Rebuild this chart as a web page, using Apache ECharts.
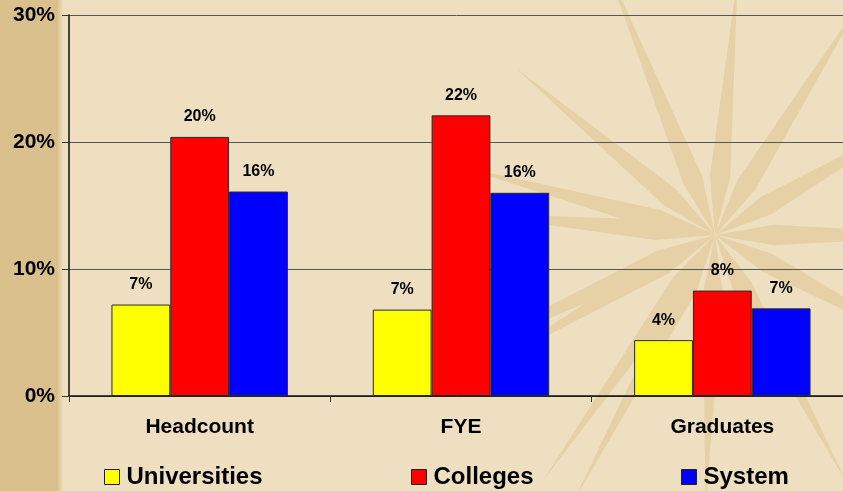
<!DOCTYPE html>
<html>
<head>
<meta charset="utf-8">
<script src="https://cdn.jsdelivr.net/npm/echarts@6/dist/echarts.min.js"></script>
<style>
  html, body { margin: 0; padding: 0; }
  #chart { width: 843px; height: 491px; }
</style>
</head>
<body>
<div id="chart"></div>
<script>
// categories / series
var categories = ['Headcount', 'FYE', 'Graduates'];
var universities = [7.2, 6.8, 4.4];
var colleges = [20.4, 22.1, 8.3];
var system = [16.1, 16.0, 6.9];
var yTicks = [0, 10, 20, 30];

var FONT = 'Arial, "Liberation Sans", sans-serif';

// faint starburst behind the plot (decoration only)
function starRays() {
  var cx = 715, cy = 235;
  var rays = [
    [205, 330], [165, 270], [140, 260], [112, 290], [85, 260], [58, 280],
    [30, 240], [0, 250], [-28, 260], [-62, 280], [-92, 270], [-118, 300],
    [-150, 260], [-185, 250], [235, 300]
  ];
  var els = [];
  rays.forEach(function (r) {
    var a = r[0] * Math.PI / 180, len = r[1];
    var w = 0.17;
    els.push({
      type: 'polygon',
      z: -10,
      silent: true,
      shape: {
        points: [
          [cx + Math.cos(a - w) * 60, cy - Math.sin(a - w) * 60],
          [cx + Math.cos(a) * len, cy - Math.sin(a) * len],
          [cx + Math.cos(a + w) * 60, cy - Math.sin(a + w) * 60],
          [cx, cy]
        ]
      },
      style: { fill: '#E5D1A5' }
    });
  });
  return els;
}

var chart = echarts.init(document.getElementById('chart'));

var barLabel = {
  show: true,
  position: 'top',
  distance: 12,
  color: '#000',
  fontFamily: FONT,
  fontWeight: 'bold',
  fontSize: 16,
  formatter: function (p) { return Math.round(p.value) + '%'; }
};

function barSeries(name, data, color) {
  return {
    name: name,
    type: 'bar',
    data: data,
    barGap: '0%',
    barCategoryGap: '32.5%',
    itemStyle: { color: color, borderColor: '#2a2a2a', borderWidth: 1 },
    label: barLabel
  };
}

function legendAt(name, left) {
  return {
    data: [name],
    left: left,
    top: 465,
    padding: 0,
    icon: 'rect',
    itemWidth: 15,
    itemHeight: 15,
    itemGap: 0,
    itemStyle: { borderColor: '#222', borderWidth: 1 },
    textStyle: { color: '#000', fontFamily: FONT, fontWeight: 'bold', fontSize: 24, padding: [0, 0, 0, 2] },
    selectedMode: false
  };
}

var option = {
  animation: false,
  backgroundColor: '#EDDFC0',
  graphic: [
    { type: 'rect', z: -20, silent: true, shape: { x: 0, y: 0, width: 58, height: 491 }, style: { fill: '#DAC08D' } },
    {
      type: 'rect', z: -20, silent: true, shape: { x: 58, y: 0, width: 5, height: 491 },
      style: {
        fill: new echarts.graphic.LinearGradient(0, 0, 1, 0, [
          { offset: 0, color: '#DDC492' },
          { offset: 1, color: '#EDDFC0' }
        ])
      }
    }
  ].concat(starRays()),
  legend: [
    legendAt('Universities', 104),
    legendAt('Colleges', 411),
    legendAt('System', 681)
  ],
  // the plot runs a little past the right edge of the picture
  grid: { left: 69, right: -10, top: 15, bottom: 95, containLabel: false, outerBoundsMode: 'none' },
  xAxis: {
    type: 'category',
    data: categories,
    axisLine: { show: true, lineStyle: { color: '#111', width: 1.5 } },
    axisTick: { show: true, length: 6, lineStyle: { color: '#333' } },
    axisLabel: { color: '#000', fontFamily: FONT, fontWeight: 'bold', fontSize: 21, margin: 21 }
  },
  yAxis: {
    type: 'value',
    min: yTicks[0],
    max: yTicks[yTicks.length - 1],
    interval: 10,
    axisLine: { show: true, lineStyle: { color: '#111', width: 1.5 } },
    axisTick: { show: true, length: 7, lineStyle: { color: '#333' } },
    axisLabel: {
      color: '#000', fontFamily: FONT, fontWeight: 'bold', fontSize: 21, margin: 14,
      formatter: '{value}%'
    },
    splitLine: { show: true, lineStyle: { color: '#5a5650', width: 1 } }
  },
  series: [
    barSeries('Universities', universities, '#FFFF00'),
    barSeries('Colleges', colleges, '#FF0000'),
    barSeries('System', system, '#0000FF')
  ]
};

chart.setOption(option);
</script>
</body>
</html>
